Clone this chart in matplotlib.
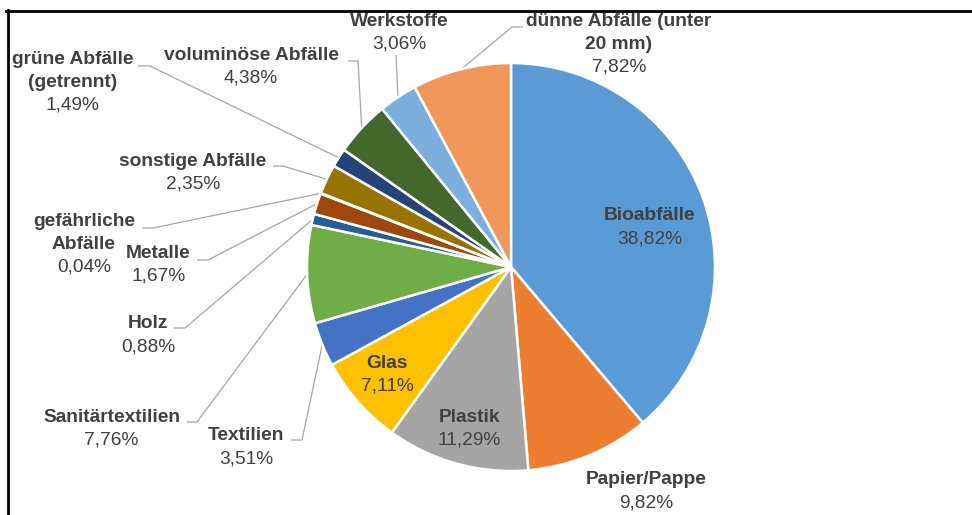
import matplotlib
matplotlib.use("Agg")
import matplotlib.pyplot as plt
import numpy as np
from matplotlib.lines import Line2D

plt.rcParams['font.family'] = ['Liberation Sans', 'DejaVu Sans']

# ---- data ----
categories = ["Bioabfälle", "Papier/Pappe", "Plastik", "Glas", "Textilien",
              "Sanitärtextilien", "Holz", "Metalle", "gefährliche\nAbfälle",
              "sonstige Abfälle", "grüne Abfälle\n(getrennt)", "voluminöse Abfälle",
              "Werkstoffe", "dünne Abfälle (unter\n20 mm)"]
values = [38.82, 9.82, 11.29, 7.11, 3.51, 7.76, 0.88, 1.67, 0.04, 2.35, 1.49, 4.38, 3.06, 7.82]
colors = ["#5B9BD5", "#ED7D31", "#A5A5A5", "#FFC000", "#4472C4", "#70AD47",
          "#255E91", "#9E480E", "#636363", "#997300", "#264478", "#43682B",
          "#7CAFDD", "#F1975A"]

# ---- layout (pixel coordinates of the 972x515 canvas) ----
W, H = 972, 515
CX, CY, R = 511, 267, 204
# centre x and y of first text line for each label
label_pos = [(650, 216), (646, 480), (469, 417), (387, 363), (246, 436),
             (111.5, 417), (148, 324), (158.5, 253), (84, 222), (193, 161),
             (72.5, 60), (251, 55), (399, 21), (619, 22)]
LINE_STEP = 22.7
# leader line points (label side) ; None = no leader line
leaders = [None, None, None, None,
           [(291, 440), (302, 440)],
           [(187, 422), (197, 422)],
           [(174, 328), (185, 328)],
           [(197, 260), (208, 260)],
           [(142, 228), (153, 228)],
           [(273, 166), (283, 166)],
           [(138, 66), (150, 66)],
           [(348, 61), (358, 61)],
           [(396, 55)],
           [(523, 27), (512, 27)]]

TEXT_COLOR = "#404040"
LEADER_COLOR = "#A6A6A6"
FS = 13.8


def P(px, py):
    return (px - CX) / R, (CY - py) / R


fig = plt.figure(figsize=(W / 100, H / 100), dpi=100)
ax = fig.add_axes([0, 0, 1, 1])
ax.pie(values, colors=colors, startangle=90, counterclock=False, radius=1,
       wedgeprops=dict(edgecolor="white", linewidth=1.8))
x0, y1 = P(0, 0)
x1, y0 = P(W, H)
ax.set_xlim(x0, x1)
ax.set_ylim(y0, y1)
ax.set_aspect("auto")
ax.axis("off")

total = sum(values)
cum = np.cumsum([0] + values[:-1])
for name, v, c0, pos, lead in zip(categories, values, cum, label_pos, leaders):
    pct = f"{v:.2f}".replace(".", ",") + "%"
    lines = name.split("\n")
    cx, cy = pos
    for i, ln in enumerate(lines):
        ax.text(*P(cx, cy + i * LINE_STEP), ln, ha="center", va="center",
                fontsize=FS, fontweight="bold", color=TEXT_COLOR)
    ax.text(*P(cx, cy + len(lines) * LINE_STEP), pct, ha="center", va="center",
            fontsize=FS, color=TEXT_COLOR)
    if lead is not None:
        theta = np.deg2rad(90 - 360 * (c0 + v / 2) / total)
        pts = [P(*p) for p in lead] + [(np.cos(theta) * 1.0, np.sin(theta) * 1.0)]
        xs, ys = zip(*pts)
        ax.plot(xs, ys, color=LEADER_COLOR, lw=0.9, solid_capstyle="butt", zorder=0)

# partial frame (top and left edges of the chart area)
fig.add_artist(Line2D([6 / W, 1], [1 - 10.5 / H, 1 - 10.5 / H], color="black", lw=2.0,
                      transform=fig.transFigure))
fig.add_artist(Line2D([7.5 / W, 7.5 / W], [0, 1 - 9.5 / H], color="black", lw=2.0,
                      transform=fig.transFigure))

fig.savefig("out.png", dpi=100)
